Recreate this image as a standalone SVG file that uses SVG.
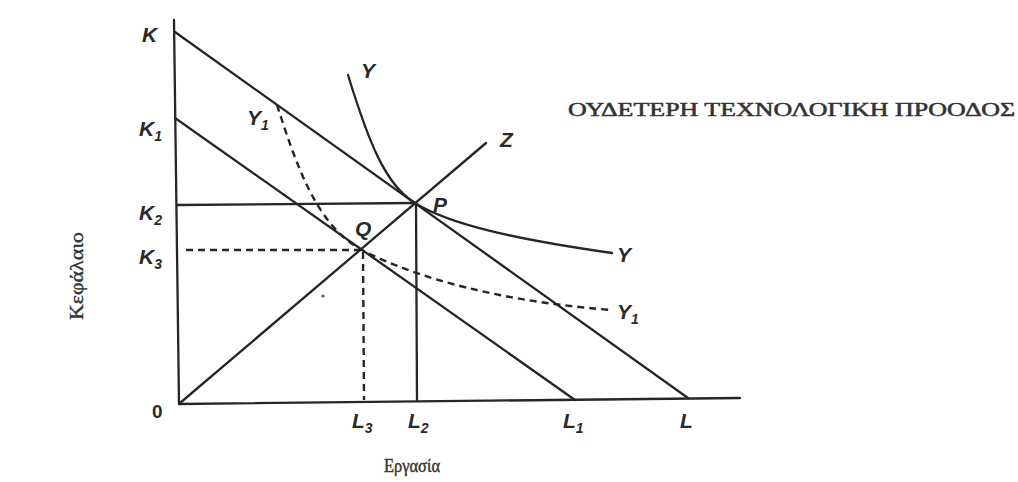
<svg xmlns="http://www.w3.org/2000/svg" width="1018" height="482" viewBox="0 0 1018 482">
<style>
.ln{stroke:#262626;stroke-width:2.3;fill:none;stroke-linecap:round}
.ds{stroke:#262626;stroke-width:2.4;fill:none;stroke-dasharray:7 5}
.lb{font-family:"Liberation Sans",Arial,sans-serif;font-style:italic;font-weight:bold;font-size:21px;fill:#2a2a2a}
.sb{font-size:14px}
.gr{font-family:"Liberation Serif","Times New Roman",serif;fill:#333;stroke:#333;stroke-width:0.4}
</style>
<rect width="1018" height="482" fill="#fff"/>
<g id="axes">
<line class="ln" x1="174" y1="20" x2="179" y2="404"/>
<line class="ln" x1="179" y1="404" x2="740" y2="398"/>
</g>
<g id="lines">
<line class="ln" x1="175" y1="32" x2="688" y2="398"/>
<line class="ln" x1="175" y1="118" x2="575" y2="400"/>
<line class="ln" x1="177" y1="205" x2="415" y2="203"/>
<line class="ds" x1="186" y1="250" x2="362" y2="250"/>
<line class="ln" x1="416" y1="203" x2="417" y2="400"/>
<line class="ds" x1="363" y1="252" x2="364" y2="400"/>
<line class="ln" x1="180" y1="403" x2="486" y2="143"/>
<path class="ln" d="M348,75 C368,140 385,185 415,203 C450,225 520,240 612,253" stroke-width="3"/>
<path class="ds" d="M277,105 C295,160 315,225 362,250 C400,270 480,300 612,310"/>
<circle cx="323" cy="296" r="1.6" fill="#555"/>
</g>
<g id="labels" class="lb">
<text x="142" y="42">K</text>
<text x="139" y="136">K<tspan class="sb" dy="5">1</tspan></text>
<text x="139" y="220">K<tspan class="sb" dy="5">2</tspan></text>
<text x="139" y="264">K<tspan class="sb" dy="5">3</tspan></text>
<text x="152" y="418" style="font-style:normal;font-size:19px">0</text>
<text x="352" y="428">L<tspan class="sb" dy="5">3</tspan></text>
<text x="408" y="428">L<tspan class="sb" dy="5">2</tspan></text>
<text x="563" y="428">L<tspan class="sb" dy="5">1</tspan></text>
<text x="680" y="428">L</text>
<text x="433" y="212">P</text>
<text x="355" y="236">Q</text>
<text x="500" y="147">Z</text>
<text x="361" y="78">Y</text>
<text x="617" y="262">Y</text>
<text x="617" y="319">Y<tspan class="sb" dy="5">1</tspan></text>
<text x="247" y="125">Y<tspan class="sb" dy="5">1</tspan></text>
</g>
<g id="titles" class="gr">
<text x="568" y="116" font-size="18" stroke-width="0.5" textLength="447" lengthAdjust="spacingAndGlyphs">ΟΥΔΕΤΕΡΗ ΤΕΧΝΟΛΟΓΙΚΗ ΠΡΟΟΔΟΣ</text>
<text x="412" y="472" font-size="18" text-anchor="middle" textLength="56" lengthAdjust="spacingAndGlyphs">Εργασία</text>
<text transform="translate(83,276) rotate(-90)" font-size="19" text-anchor="middle" textLength="88" lengthAdjust="spacingAndGlyphs">Κεφάλαιο</text>
</g>
</svg>
